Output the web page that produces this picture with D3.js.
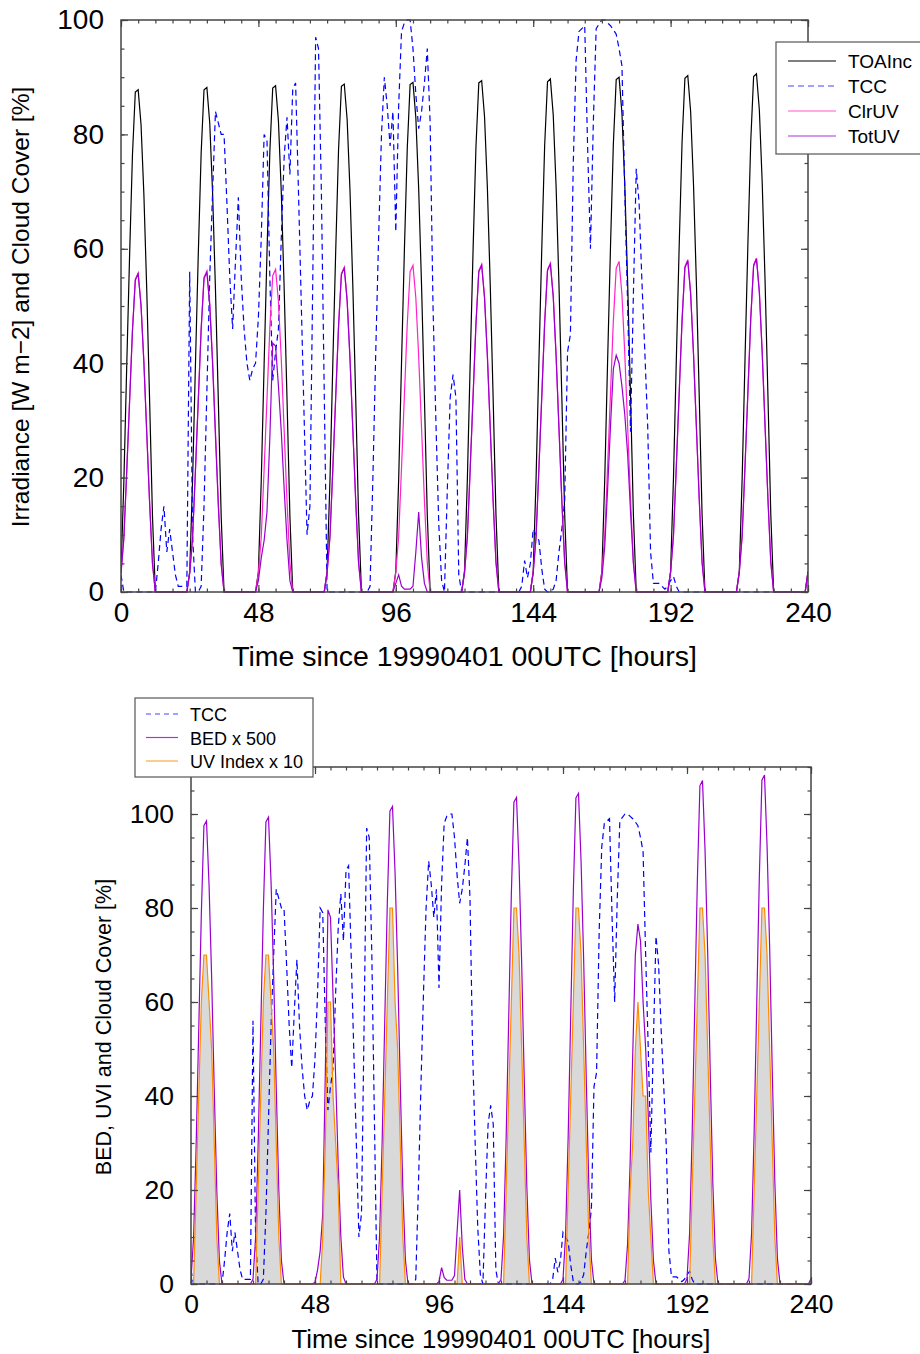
<!DOCTYPE html>
<html>
<head>
<meta charset="utf-8">
<script src="https://cdn.jsdelivr.net/npm/d3@7"></script>
<style>
  body { margin: 0; background: #fff; }
  text { font-family: "Liberation Sans", Arial, Helvetica, sans-serif; }
</style>
</head>
<body>
<svg id="chart" width="920" height="1354"></svg>
<script>
// hourly steps, 0..240 h since 19990401 00UTC
let hours = d3.range(0, 241);

// one row per day (hours 0-23 of that day)
let toaInc = [
  3.5, 19.3, 39.5, 58.8, 76.4, 87.4, 87.8, 81.7, 69.4, 52.7, 33.4, 13.2, 0, 0, 0, 0, 0, 0, 0, 0, 0, 0, 0, 0,
  3.5, 19.4, 39.7, 59.1, 76.7, 87.8, 88.2, 82.0, 69.7, 52.9, 33.5, 13.2, 0, 0, 0, 0, 0, 0, 0, 0, 0, 0, 0, 0,
  3.5, 19.5, 39.8, 59.3, 77.0, 88.1, 88.5, 82.3, 69.9, 53.1, 33.6, 13.3, 0, 0, 0, 0, 0, 0, 0, 0, 0, 0, 0, 0,
  3.6, 19.5, 40.0, 59.5, 77.3, 88.4, 88.8, 82.6, 70.2, 53.3, 33.7, 13.3, 0, 0, 0, 0, 0, 0, 0, 0, 0, 0, 0, 0,
  3.6, 19.6, 40.1, 59.7, 77.5, 88.7, 89.1, 82.9, 70.4, 53.5, 33.9, 13.4, 0, 0, 0, 0, 0, 0, 0, 0, 0, 0, 0, 0,
  3.6, 19.7, 40.2, 59.9, 77.8, 89.0, 89.4, 83.1, 70.6, 53.6, 34.0, 13.4, 0, 0, 0, 0, 0, 0, 0, 0, 0, 0, 0, 0,
  3.6, 19.7, 40.4, 60.1, 78.0, 89.2, 89.7, 83.4, 70.9, 53.8, 34.1, 13.5, 0, 0, 0, 0, 0, 0, 0, 0, 0, 0, 0, 0,
  3.6, 19.8, 40.5, 60.3, 78.3, 89.6, 90.0, 83.7, 71.1, 54.0, 34.2, 13.5, 0, 0, 0, 0, 0, 0, 0, 0, 0, 0, 0, 0,
  3.6, 19.9, 40.6, 60.5, 78.6, 89.8, 90.3, 84.0, 71.3, 54.2, 34.3, 13.5, 0, 0, 0, 0, 0, 0, 0, 0, 0, 0, 0, 0,
  3.6, 19.9, 40.8, 60.7, 78.8, 90.1, 90.6, 84.3, 71.6, 54.4, 34.4, 13.6, 0, 0, 0, 0, 0, 0, 0, 0, 0, 0, 0, 0,
  3.6
];

let tcc = [
  3, 0, 0, 0, 0, 0, 0, 0, 0, 0, 0, 0, 0, 5, 11, 15, 7, 11, 7, 3, 1, 1, 1, 1,
  56, 10, 0, 0, 1, 15, 35, 55, 70, 84, 82, 80, 80, 68, 55, 46, 58, 69, 55, 46, 40, 37, 39, 40,
  48, 62, 80, 79, 55, 37, 42, 46, 62, 76, 83, 73, 88, 89, 70, 50, 30, 10, 15, 55, 97, 95, 70, 35,
  0, 0, 0, 0, 0, 0, 0, 0, 0, 0, 0, 0, 0, 0, 0, 1, 20, 42, 62, 80, 90, 85, 78, 84,
  63, 85, 98, 99.5, 100, 100, 95, 87, 81, 84, 89, 95, 82, 50, 30, 12, 2, 0, 18, 34, 38, 34, 3, 0,
  0, 0, 0, 0, 0, 0, 0, 0, 0, 0, 0, 0, 0, 0, 0, 0, 0, 0, 0, 0, 1, 5.5, 2.5, 5,
  11, 10, 9, 4, 0.5, 0, 0, 0.5, 2, 7, 11, 16, 42, 45, 75, 93, 98, 98.5, 99, 78, 60, 82, 98.5, 99.3,
  100, 100, 99.5, 99, 98.3, 97.5, 95, 92, 70, 50, 28, 52, 74, 68, 54, 42, 29, 7, 1.5, 1.5, 1.5, 1, 0.5, 1,
  2, 2.7, 1, 0, 0, 0, 0, 0, 0, 0, 0, 0, 0, 0, 0, 0, 0, 0, 0, 0, 0, 0, 0, 0,
  0, 0, 0, 0, 0, 0, 0, 0, 0, 0, 0, 0, 0, 0, 0, 0, 0, 0, 0, 0, 0, 0, 0, 0,
  0
];

let clrUV = [
  3.3, 9.5, 21.2, 33.5, 45.8, 54.7, 55.8, 50.2, 40.2, 27.9, 15.6, 5.0, 0, 0, 0, 0, 0, 0, 0, 0, 0, 0, 0, 0,
  3.4, 9.5, 21.3, 33.7, 46.0, 55.0, 56.1, 50.5, 40.4, 28.1, 15.7, 5.0, 0, 0, 0, 0, 0, 0, 0, 0, 0, 0, 0, 0,
  3.4, 9.6, 21.4, 33.8, 46.2, 55.3, 56.4, 50.8, 40.6, 28.2, 15.8, 5.1, 0, 0, 0, 0, 0, 0, 0, 0, 0, 0, 0, 0,
  3.4, 9.7, 21.6, 34.1, 46.6, 55.7, 56.8, 51.1, 40.9, 28.4, 15.9, 5.1, 0, 0, 0, 0, 0, 0, 0, 0, 0, 0, 0, 0,
  3.4, 9.7, 21.7, 34.3, 46.8, 56.0, 57.1, 51.4, 41.1, 28.6, 16.0, 5.1, 0, 0, 0, 0, 0, 0, 0, 0, 0, 0, 0, 0,
  3.4, 9.7, 21.8, 34.4, 47.0, 56.2, 57.3, 51.6, 41.3, 28.7, 16.0, 5.2, 0, 0, 0, 0, 0, 0, 0, 0, 0, 0, 0, 0,
  3.5, 9.8, 21.9, 34.5, 47.2, 56.4, 57.5, 51.8, 41.4, 28.8, 16.1, 5.2, 0, 0, 0, 0, 0, 0, 0, 0, 0, 0, 0, 0,
  3.5, 9.8, 22.0, 34.7, 47.4, 56.6, 57.8, 52.0, 41.6, 28.9, 16.2, 5.2, 0, 0, 0, 0, 0, 0, 0, 0, 0, 0, 0, 0,
  3.5, 9.9, 22.1, 34.9, 47.6, 56.9, 58.1, 52.3, 41.8, 29.1, 16.3, 5.2, 0, 0, 0, 0, 0, 0, 0, 0, 0, 0, 0, 0,
  3.5, 9.9, 22.2, 35.0, 47.9, 57.2, 58.4, 52.6, 42.0, 29.2, 16.4, 5.3, 0, 0, 0, 0, 0, 0, 0, 0, 0, 0, 0, 0,
  3.5
];

let totUV = [
  3.2, 9.4, 21.0, 33.3, 45.6, 54.5, 55.6, 50.0, 40.0, 27.7, 15.5, 4.9, 0, 0, 0, 0, 0, 0, 0, 0, 0, 0, 0, 0,
  3.3, 9.4, 21.1, 33.5, 45.8, 54.8, 55.9, 50.1, 39.8, 27.2, 15.0, 4.8, 0, 0, 0, 0, 0, 0, 0, 0, 0, 0, 0, 0,
  2, 6, 9, 14, 27, 43.5, 43, 36, 28, 18, 9, 2, 0, 0, 0, 0, 0, 0, 0, 0, 0, 0, 0, 0,
  3.3, 9.6, 21.5, 33.9, 46.4, 55.5, 56.6, 50.9, 40.7, 28.2, 15.8, 5.0, 0, 0, 0, 0, 0, 0, 0, 0, 0, 0, 0, 0,
  1.5, 3, 1, 0.5, 0.5, 0.5, 1, 7, 14, 6, 1.5, 0, 0, 0, 0, 0, 0, 0, 0, 0, 0, 0, 0, 0,
  3.3, 9.6, 21.6, 34.2, 46.8, 56.0, 57.1, 51.4, 41.1, 28.5, 15.9, 5.1, 0, 0, 0, 0, 0, 0, 0, 0, 0, 0, 0, 0,
  3.3, 9.5, 21.5, 34.1, 46.9, 56.2, 57.3, 51.6, 41.2, 28.6, 15.9, 5.1, 0, 0, 0, 0, 0, 0, 0, 0, 0, 0, 0, 0,
  2.5, 8, 18, 29, 39, 41.4, 40, 36, 31, 24, 14, 5, 0, 0, 0, 0, 0, 0, 0, 0, 0, 0, 0, 0,
  3.4, 9.8, 21.9, 34.7, 47.4, 56.7, 57.9, 52.1, 41.6, 28.9, 16.2, 5.1, 0, 0, 0, 0, 0, 0, 0, 0, 0, 0, 0, 0,
  3.4, 9.8, 22.0, 34.8, 47.7, 57.0, 58.2, 52.4, 41.8, 29.0, 16.3, 5.2, 0, 0, 0, 0, 0, 0, 0, 0, 0, 0, 0, 0,
  3.4
];

let bed500 = [
  1.0, 9.9, 29.6, 54.2, 78.8, 97.5, 98.5, 84.7, 65.0, 41.4, 19.7, 4.9, 0, 0, 0, 0, 0, 0, 0, 0, 0, 0, 0, 0,
  1.0, 9.9, 29.8, 54.6, 79.4, 98.3, 99.3, 85.4, 65.5, 41.7, 19.9, 5.0, 0, 0, 0, 0, 0, 0, 0, 0, 0, 0, 0, 0,
  0.4, 3, 7, 15, 45, 79.6, 78, 61, 44, 25, 10, 1.5, 0, 0, 0, 0, 0, 0, 0, 0, 0, 0, 0, 0,
  1.0, 10.2, 30.5, 55.9, 81.3, 100.6, 101.6, 87.4, 67.1, 42.7, 20.3, 5.1, 0, 0, 0, 0, 0, 0, 0, 0, 0, 0, 0, 0,
  0.5, 3.5, 1.4, 0.8, 0.8, 0.8, 1.8, 11, 20, 8, 1, 0, 0, 0, 0, 0, 0, 0, 0, 0, 0, 0, 0, 0,
  1.0, 10.4, 31.1, 56.9, 82.8, 102.5, 103.5, 89.0, 68.3, 43.5, 20.7, 5.2, 0, 0, 0, 0, 0, 0, 0, 0, 0, 0, 0, 0,
  1.0, 10.4, 31.3, 57.4, 83.5, 103.4, 104.4, 89.8, 68.9, 43.8, 20.9, 5.2, 0, 0, 0, 0, 0, 0, 0, 0, 0, 0, 0, 0,
  0.8, 8.5, 26, 49, 70, 76.6, 73, 60, 50, 36, 18, 5, 0, 0, 0, 0, 0, 0, 0, 0, 0, 0, 0, 0,
  1.1, 10.7, 32.1, 58.9, 85.7, 106.0, 107.1, 92.1, 70.7, 45.0, 21.4, 5.4, 0, 0, 0, 0, 0, 0, 0, 0, 0, 0, 0, 0,
  1.1, 10.8, 32.5, 59.6, 86.6, 107.2, 108.3, 93.1, 71.5, 45.5, 21.7, 5.4, 0, 0, 0, 0, 0, 0, 0, 0, 0, 0, 0, 0,
  1.1
];

let uvi10 = [
  0, 0, 20, 40, 60, 70, 70, 60, 50, 30, 10, 0, 0, 0, 0, 0, 0, 0, 0, 0, 0, 0, 0, 0,
  0, 0, 20, 40, 60, 70, 70, 60, 50, 30, 10, 0, 0, 0, 0, 0, 0, 0, 0, 0, 0, 0, 0, 0,
  0, 0, 0, 10, 30, 60, 60, 40, 30, 20, 0, 0, 0, 0, 0, 0, 0, 0, 0, 0, 0, 0, 0, 0,
  0, 0, 20, 40, 60, 80, 80, 60, 50, 30, 10, 0, 0, 0, 0, 0, 0, 0, 0, 0, 0, 0, 0, 0,
  0, 0, 0, 0, 0, 0, 0, 0, 10, 0, 0, 0, 0, 0, 0, 0, 0, 0, 0, 0, 0, 0, 0, 0,
  0, 0, 20, 40, 60, 80, 80, 70, 50, 30, 10, 0, 0, 0, 0, 0, 0, 0, 0, 0, 0, 0, 0, 0,
  0, 0, 20, 40, 60, 80, 80, 70, 50, 30, 10, 0, 0, 0, 0, 0, 0, 0, 0, 0, 0, 0, 0, 0,
  0, 0, 20, 30, 50, 60, 50, 40, 40, 20, 10, 0, 0, 0, 0, 0, 0, 0, 0, 0, 0, 0, 0, 0,
  0, 0, 20, 40, 60, 80, 80, 70, 50, 30, 10, 0, 0, 0, 0, 0, 0, 0, 0, 0, 0, 0, 0, 0,
  0, 0, 20, 40, 60, 80, 80, 70, 50, 30, 10, 0, 0, 0, 0, 0, 0, 0, 0, 0, 0, 0, 0, 0,
  0
];

let xTicks = [0, 48, 96, 144, 192, 240];
let yTicks = [0, 20, 40, 60, 80, 100];
let legendTop = ["TOAInc", "TCC", "ClrUV", "TotUV"];
let legendBottom = ["TCC", "BED x 500", "UV Index x 10"];

let font = "Liberation Sans, Arial, Helvetica, sans-serif";
let svg = d3.select("#chart");

// top panel
let x1 = d3.scaleLinear().domain([0, 240]).range([121, 808]);
let y1 = d3.scaleLinear().domain([0, 100]).range([592, 20]);
// bottom panel
let x2 = d3.scaleLinear().domain([0, 240]).range([191, 811]);
let y2 = d3.scaleLinear().domain([0, 110]).range([1284, 767]);

function frame(x, y, ymax, tickFs) {
  let xr = x.range(), yr = y.range();
  let g = svg.append("g");
  // minor ticks
  g.append("g").attr("transform", "translate(0," + yr[0] + ")")
    .call(d3.axisBottom(x).tickValues(d3.range(0, 241, 6)).tickSize(-3.5).tickFormat(""));
  g.append("g").attr("transform", "translate(0," + yr[1] + ")")
    .call(d3.axisTop(x).tickValues(d3.range(0, 241, 6)).tickSize(-3.5).tickFormat(""));
  g.append("g").attr("transform", "translate(" + xr[0] + ",0)")
    .call(d3.axisLeft(y).tickValues(d3.range(0, ymax + 0.1, 5)).tickSize(-3.5).tickFormat(""));
  g.append("g").attr("transform", "translate(" + xr[1] + ",0)")
    .call(d3.axisRight(y).tickValues(d3.range(0, ymax + 0.1, 5)).tickSize(-3.5).tickFormat(""));
  // major ticks + labels
  g.append("g").attr("class", "lab").attr("transform", "translate(0," + yr[0] + ")")
    .call(d3.axisBottom(x).tickValues(xTicks).tickSize(-7).tickPadding(10));
  g.append("g").attr("transform", "translate(0," + yr[1] + ")")
    .call(d3.axisTop(x).tickValues(xTicks).tickSize(-7).tickFormat(""));
  g.append("g").attr("class", "lab").attr("transform", "translate(" + xr[0] + ",0)")
    .call(d3.axisLeft(y).tickValues(yTicks).tickSize(-7).tickPadding(17));
  g.append("g").attr("transform", "translate(" + xr[1] + ",0)")
    .call(d3.axisRight(y).tickValues(yTicks).tickSize(-7).tickFormat(""));
  g.selectAll(".domain").remove();
  g.selectAll(".tick line").attr("stroke", "#444").attr("stroke-width", 1.2);
  g.selectAll(".lab text").attr("font-size", tickFs + "px").attr("font-family", font).attr("fill", "#000");
  g.append("rect")
    .attr("x", xr[0]).attr("y", yr[1])
    .attr("width", xr[1] - xr[0]).attr("height", yr[0] - yr[1])
    .attr("fill", "none").attr("stroke", "#444").attr("stroke-width", 1.5);
}

function addLine(x, y, data, color, dash, clip) {
  let line = d3.line().x((d, i) => x(hours[i])).y(d => y(d));
  svg.append("path")
    .datum(data)
    .attr("clip-path", clip)
    .attr("fill", "none")
    .attr("stroke", color)
    .attr("stroke-width", 1.2)
    .attr("stroke-dasharray", dash)
    .attr("d", line);
}

let defs = svg.append("defs");
defs.append("clipPath").attr("id", "c1").append("rect")
  .attr("x", 121).attr("y", 19).attr("width", 687).attr("height", 574);
defs.append("clipPath").attr("id", "c2").append("rect")
  .attr("x", 191).attr("y", 766).attr("width", 620).attr("height", 519);

// ---- top panel
addLine(x1, y1, toaInc, "#000", null, "url(#c1)");
addLine(x1, y1, tcc, "#0000ff", "6,4", "url(#c1)");
addLine(x1, y1, clrUV, "#ff22cc", null, "url(#c1)");
addLine(x1, y1, totUV, "#9900cc", null, "url(#c1)");
frame(x1, y1, 100, 28);

svg.append("text")
  .attr("x", 464.5).attr("y", 666)
  .attr("text-anchor", "middle").attr("font-size", "28.5px")
  .text("Time since 19990401 00UTC [hours]");
svg.append("text")
  .attr("transform", "translate(29,307) rotate(-90)")
  .attr("text-anchor", "middle").attr("font-size", "24.5px")
  .text("Irradiance [W m\u22122]  and Cloud Cover [%]");

let legTopColors = ["#000", "#4444ff", "#ff55cc", "#aa33dd"];
let lg1 = svg.append("g");
lg1.append("rect").attr("x", 776).attr("y", 42).attr("width", 160).attr("height", 112)
  .attr("fill", "#fff").attr("stroke", "#555").attr("stroke-width", 1.2);
legendTop.forEach((name, i) => {
  let yy = 61 + i * 25;
  lg1.append("line").attr("x1", 788).attr("x2", 836).attr("y1", yy).attr("y2", yy)
    .attr("stroke", legTopColors[i]).attr("stroke-width", 1.2)
    .attr("stroke-dasharray", name == "TCC" ? "6,4" : null);
  lg1.append("text").attr("x", 848).attr("y", yy + 7).attr("font-size", "19px").text(name);
});

// ---- bottom panel
let area = d3.area().x((d, i) => x2(hours[i])).y0(y2(0)).y1(d => y2(d));
svg.append("path").datum(uvi10).attr("clip-path", "url(#c2)")
  .attr("fill", "#d9d9d9").attr("d", area);
addLine(x2, y2, tcc, "#0000ff", "6,4", "url(#c2)");
addLine(x2, y2, bed500, "#9900cc", null, "url(#c2)");
addLine(x2, y2, uvi10, "#ff8c00", null, "url(#c2)");
frame(x2, y2, 110, 26.5);

svg.append("text")
  .attr("x", 501).attr("y", 1348)
  .attr("text-anchor", "middle").attr("font-size", "25.7px")
  .text("Time since 19990401 00UTC [hours]");
svg.append("text")
  .attr("transform", "translate(111,1027) rotate(-90)")
  .attr("text-anchor", "middle").attr("font-size", "21.5px")
  .text("BED, UVI and Cloud Cover [%]");

let legBotColors = ["#4444ff", "#aa33dd", "#ffaa44"];
let lg2 = svg.append("g");
lg2.append("rect").attr("x", 135).attr("y", 698).attr("width", 178).attr("height", 79)
  .attr("fill", "#fff").attr("stroke", "#555").attr("stroke-width", 1.2);
legendBottom.forEach((name, i) => {
  let yy = 714 + i * 23.5;
  lg2.append("line").attr("x1", 146).attr("x2", 178).attr("y1", yy).attr("y2", yy)
    .attr("stroke", legBotColors[i]).attr("stroke-width", 1.2)
    .attr("stroke-dasharray", name == "TCC" ? "5,4" : null);
  lg2.append("text").attr("x", 190).attr("y", yy + 7).attr("font-size", "18px").text(name);
});
</script>
</body>
</html>
